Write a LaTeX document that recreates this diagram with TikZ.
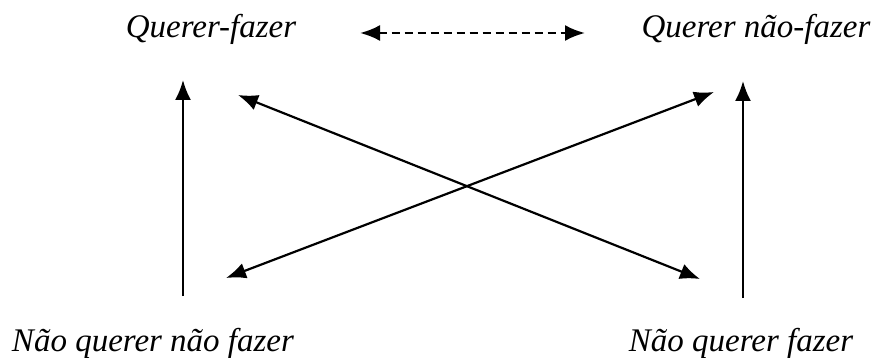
\documentclass[tikz,border=0pt]{standalone}
\usepackage{fontspec}
\setmainfont{Liberation Serif}[ItalicFont={Liberation Serif Italic}]
\usetikzlibrary{arrows.meta}
\tikzset{
  term/.style={inner sep=0pt, anchor=base, font=\fontsize{33}{38}\selectfont\itshape},
  rel/.style={line width=2.2pt, -{Latex[length=20pt,width=16pt]}},
  both/.style={line width=2.2pt, {Latex[length=20pt,width=16pt]}-{Latex[length=20pt,width=16pt]}},
  contr/.style={line width=2.6pt, dash pattern=on 8pt off 5pt, {Latex[length=20pt,width=16pt]}-{Latex[length=20pt,width=16pt]}}
}
\begin{document}
\begin{tikzpicture}[x=1pt,y=-1pt]
\useasboundingbox (0,0) rectangle (878,358);
% the four positions of the square
\node[term] (qf)  at (211,38)  {Querer-fazer};
\node[term] (qnf) at (756,38)  {Querer não-fazer};
\node[term] (nqnf) at (153,351) {Não querer não fazer};
\node[term] (nqf) at (741,351) {Não querer fazer};
% anchor points of the arrows
\coordinate (a1) at (360,33);
\coordinate (a2) at (585,33);
\coordinate (l1) at (183,296);
\coordinate (l2) at (183,80);
\coordinate (r1) at (743,298);
\coordinate (r2) at (743,81);
\coordinate (d1a) at (238,95);
\coordinate (d1b) at (700,279);
\coordinate (d2a) at (226,278);
\coordinate (d2b) at (714,92);
% relations
\draw[contr] (a1) -- (a2);
\draw[rel] (l1) -- (l2);
\draw[rel] (r1) -- (r2);
\draw[both] (d1a) -- (d1b);
\draw[both] (d2a) -- (d2b);
\end{tikzpicture}
\end{document}
